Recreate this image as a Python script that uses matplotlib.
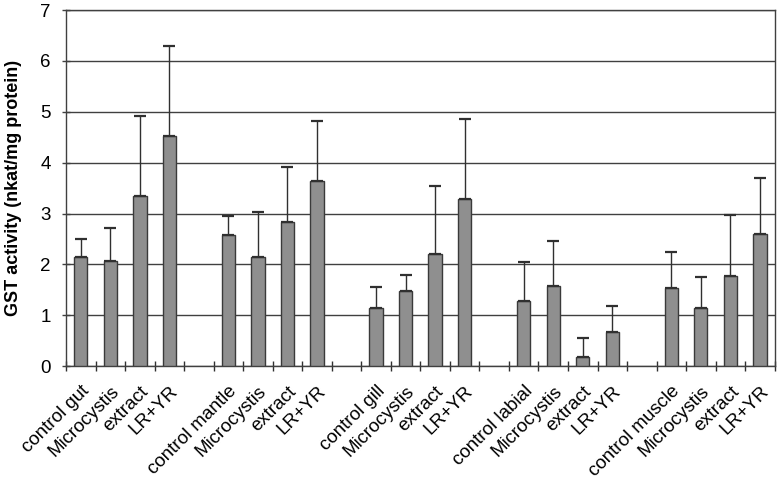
import matplotlib
matplotlib.use("Agg")
import matplotlib.pyplot as plt
import numpy as np

plt.rcParams['font.family'] = ['Liberation Sans', 'DejaVu Sans']

labels = ["control gut", "Microcystis", "extract", "LR+YR", "",
          "control mantle", "Microcystis", "extract", "LR+YR", "",
          "control gill", "Microcystis", "extract", "LR+YR", "",
          "control labial", "Microcystis", "extract", "LR+YR", "",
          "control muscle", "Microcystis", "extract", "LR+YR"]
means = [2.14, 2.06, 3.34, 4.52, np.nan,
         2.57, 2.14, 2.84, 3.64, np.nan,
         1.15, 1.47, 2.20, 3.28, np.nan,
         1.28, 1.58, 0.18, 0.67, np.nan,
         1.53, 1.15, 1.77, 2.59]
upper = [2.50, 2.72, 4.92, 6.30, np.nan,
         2.96, 3.04, 3.92, 4.82, np.nan,
         1.55, 1.80, 3.55, 4.86, np.nan,
         2.04, 2.46, 0.56, 1.19, np.nan,
         2.24, 1.76, 2.97, 3.69]

means = np.array(means)
errs = np.array(upper) - means
x = np.arange(len(labels))
mask = ~np.isnan(means)

fig = plt.figure(figsize=(7.77, 4.83), dpi=100)
ax = fig.add_axes([0.085, 0.242, 0.912, 0.737])

ax.set_ylim(0, 7)
ax.set_xlim(-0.5, len(labels) - 0.5)
ax.yaxis.grid(True, color='#404040', linewidth=1.0)
ax.set_axisbelow(True)

ax.bar(x[mask], means[mask], width=0.45, color='#8f8f8f', edgecolor='#3a3a3a',
       linewidth=1.0, zorder=3)
ax.errorbar(x[mask], means[mask], yerr=[np.zeros(mask.sum()), errs[mask]],
            fmt='none', ecolor='#303030', elinewidth=1.0, capsize=4, capthick=1.6,
            zorder=4)

ax.set_yticks(range(0, 8))
ax.tick_params(axis='y', length=6, direction='inout', width=1.0, color='#404040',
               labelsize=13.5, pad=8)
ax.set_xticks(x[mask])
ax.set_xticklabels([labels[i] for i in x[mask]], rotation=45, ha='right',
                   va='top', rotation_mode='anchor', fontsize=13.5)
ax.tick_params(axis='x', which='major', length=0, pad=12)
ax.set_xticks(np.arange(-0.5, len(labels) - 0.4, 1.0), minor=True)
ax.tick_params(axis='x', which='minor', length=7, direction='inout', width=1.0,
               color='#303030')

for s in ax.spines.values():
    s.set_color('#404040')
    s.set_linewidth(1.0)

ax.set_ylabel("GST activity (nkat/mg protein)", fontsize=13, fontweight='bold')
ax.yaxis.set_label_coords(-0.062, 0.5)

fig.savefig("out.png", dpi=100)
